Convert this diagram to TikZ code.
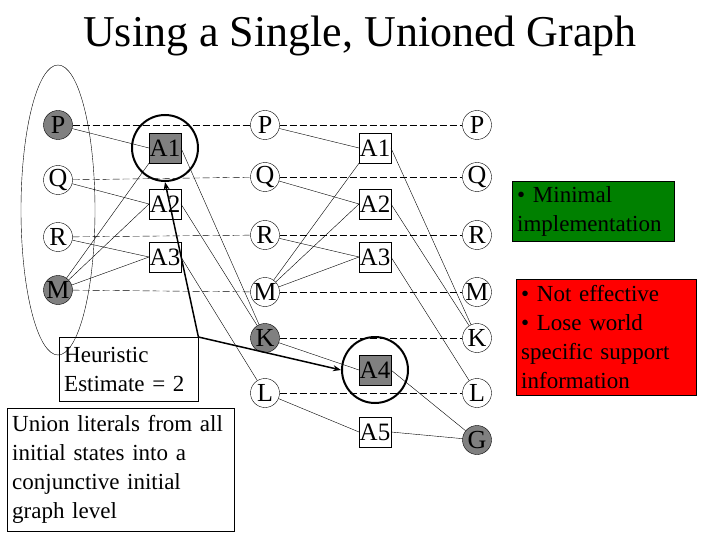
\documentclass[tikz,border=0pt]{standalone}
\usepackage{fontspec}
\setmainfont{Liberation Serif}
\usetikzlibrary{arrows.meta}
\begin{document}
\begin{tikzpicture}[x=1pt,y=-1pt,
 lit/.style={circle,draw,fill=white,minimum size=29pt,inner sep=0pt,font=\fontsize{26}{26}\selectfont},
 act/.style={rectangle,draw,fill=white,minimum size=30pt,inner sep=0.5pt,font=\fontsize{25}{25}\selectfont},
 gf/.style={fill=gray},
 dl/.style={dashed,dash pattern=on 7pt off 3pt},
 ln/.style={thin},
 big/.style={line width=2pt},
 txt/.style={draw,align=left,inner sep=5pt,font=\fontsize{23}{29}\selectfont}]
\useasboundingbox (0,0) rectangle (720,540);
\node[font=\fontsize{44}{44}\selectfont] (title) at (360,36) {Using a Single, Unioned Graph};
\draw (58,210) ellipse (37 and 145);
\node[lit,gf] (p1) at (58,125) {P};
\node[lit] (q1) at (58,180) {Q};
\node[lit] (r1) at (58,237) {R};
\node[lit,gf] (m1) at (58,290) {M};
\node[lit] (p2) at (265,125) {P};
\node[lit] (q2) at (265,177) {Q};
\node[lit] (r2) at (265,235) {R};
\node[lit] (m2) at (265,292) {M};
\node[lit,gf] (k2) at (265,338) {K};
\node[lit] (l2) at (265,393) {L};
\node[lit] (p3) at (477,125) {P};
\node[lit] (q3) at (477,177) {Q};
\node[lit] (r3) at (477,235) {R};
\node[lit] (m3) at (477,292) {M};
\node[lit] (k3) at (477,338) {K};
\node[lit] (l3) at (477,393) {L};
\node[lit,gf] (g3) at (477,440) {G};
\foreach \a/\b in {p1/p2,q1/q2,r1/r2,m1/m2,p2/p3,q2/q3,r2/r3,m2/m3,k2/k3,l2/l3}
  \draw[dl] (\a) -- (\b);
\node[act,gf] (a11) at (165,148) {A1};
\node[act] (a12) at (165,204) {A2};
\node[act] (a13) at (165,257) {A3};
\node[act] (a21) at (375,148) {A1};
\node[act] (a22) at (375,204) {A2};
\node[act] (a23) at (375,257) {A3};
\node[act,gf] (a24) at (375,370) {A4};
\node[act] (a25) at (375,432) {A5};
% level 1
\draw[ln] (p1) -- (a11.west); \draw[ln] (q1) -- (a12.west); \draw[ln] (r1) -- (a13.west);
\draw[ln] (m1) -- (a11.south west); \draw[ln] (m1) -- (a12.west); \draw[ln] (m1) -- (a13.west);
\draw[ln] (a11.east) -- (k2); \draw[ln] (a12.east) -- (k2); \draw[ln] (a13.east) -- (l2);
% level 2
\draw[ln] (p2) -- (a21.west); \draw[ln] (q2) -- (a22.west); \draw[ln] (r2) -- (a23.west);
\draw[ln] (m2) -- (a21.south west); \draw[ln] (m2) -- (a22.west); \draw[ln] (m2) -- (a23.west);
\draw[ln] (k2) -- (a24.west); \draw[ln] (l2) -- (a25.west);
\draw[ln] (a21.east) -- (k3); \draw[ln] (a22.east) -- (k3); \draw[ln] (a23.east) -- (l3);
\draw[ln] (a24.east) -- (g3); \draw[ln] (a25.east) -- (g3);
% highlight circles
\node[circle,draw,big,minimum size=66pt] (c1) at (a11) {};
\node[circle,draw,big,minimum size=66pt] (c4) at (a24) {};
% text boxes
\node[txt,anchor=north west,text width=129pt,minimum height=64pt] (he) at (59,337) {Heuristic\\Estimate = 2};
\node[txt,anchor=north west,text width=217pt,minimum height=123pt] (un) at (7,408) {Union literals from all\\initial states into a\\conjunctive initial\\graph level};
\node[txt,fill=green!50!black,anchor=north west,text width=152pt,minimum height=60pt] (gb) at (512,181) {• Minimal\\implementation};
\node[txt,fill=red,anchor=north west,text width=170pt,minimum height=116pt] (rb) at (516,279) {• Not effective\\• Lose world\\specific support\\information};
\coordinate (cn) at (he.north east);
\draw[line width=1.5pt,-{Stealth[length=8pt]}] (cn) -- (c1.south);
\draw[line width=1.5pt,-{Stealth[length=8pt]}] (cn) -- (c4.west);
\end{tikzpicture}
\end{document}
